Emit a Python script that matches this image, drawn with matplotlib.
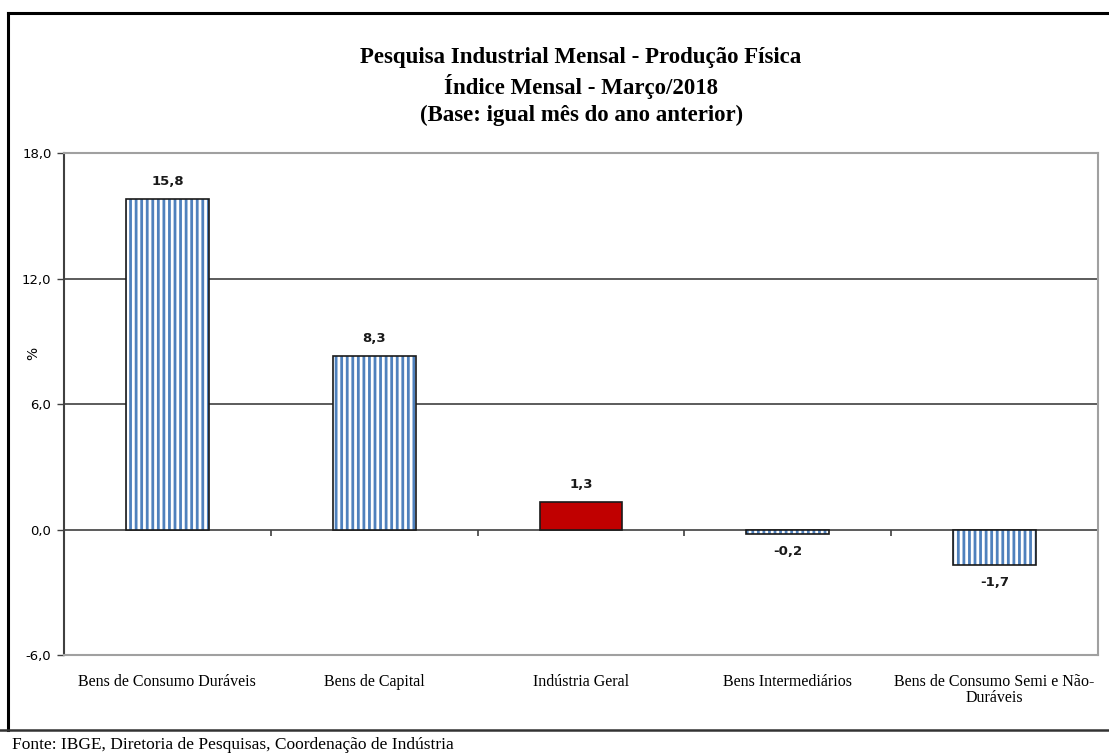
import matplotlib as mpl
import matplotlib.pyplot as plt
from matplotlib.lines import Line2D

categories = ['Bens de Consumo Duráveis', 'Bens de Capital', 'Indústria Geral',
              'Bens Intermediários', 'Bens de Consumo Semi e Não-\nDuráveis']
values = [15.8, 8.3, 1.3, -0.2, -1.7]
highlight = 'Indústria Geral'
yticks = [-6, 0, 6, 12, 18]

blue = '#4F81BD'
red = '#C00000'
serif = 'Liberation Serif'

mpl.rcParams['hatch.linewidth'] = 2.0

fig = plt.figure(figsize=(11.09, 7.56), dpi=100)
ax = fig.add_axes([0.0577, 0.1336, 0.9323, 0.664])

x = list(range(len(categories)))
for xi, v, cat in zip(x, values, categories):
    if cat == highlight:
        ax.bar(xi, v, width=0.4, color=red, edgecolor='#1a1a1a', linewidth=1.2, zorder=3)
    else:
        # blue vertical stripes on white, then the dark outline on top
        ax.bar(xi, v, width=0.4, color='white', edgecolor=blue, hatch='|||',
               linewidth=0, zorder=3)
        ax.bar(xi, v, width=0.4, fill=False, edgecolor='#1a1a1a', linewidth=1.2, zorder=4)
    lab = f'{v:.1f}'.replace('.', ',')
    off = 8 if v >= 0 else -8
    ax.annotate(lab, (xi, v), xytext=(0, off), textcoords='offset points',
                ha='center', va='bottom' if v >= 0 else 'top',
                fontsize=9.5, fontweight='bold', color='#1a1a1a', zorder=5)

ax.set_xlim(-0.5, len(categories) - 0.5)
ax.set_ylim(-6, 18)
ax.set_yticks(yticks)
ax.set_yticklabels([f'{t:.1f}'.replace('.', ',') for t in yticks], fontsize=9.5)
ax.tick_params(axis='y', length=5, width=1, color='#404040', pad=4)

ax.set_xticks(x)
ax.set_xticklabels(categories, fontsize=11.5, family=serif, linespacing=1.0)
ax.tick_params(axis='x', length=0, pad=14)

# gridlines and zero axis
for t in [6, 12]:
    ax.axhline(t, color='#404040', linewidth=1.2, zorder=1)
ax.axhline(0, color='#404040', linewidth=1.2, zorder=2)
bounds = [i + 0.5 for i in x[:-1]] + [len(categories) - 0.5]
ax.vlines(bounds, -0.3, 0, color='#404040', linewidth=1.2, zorder=2)

for side in ['top', 'right', 'bottom']:
    ax.spines[side].set_color('#A0A0A0')
    ax.spines[side].set_linewidth(1.5)
ax.spines['left'].set_color('#404040')
ax.spines['left'].set_linewidth(1.5)

ax.set_ylabel('%', fontsize=10)
ax.yaxis.set_label_coords(-0.023, 0.60)

title_lines = ['Pesquisa Industrial Mensal - Produção Física',
               'Índice Mensal - Março/2018',
               '(Base: igual mês do ano anterior)']
for i, line in enumerate(title_lines):
    fig.text(0.524, 1 - (58 + 28.5 * i) / 756, line, ha='center', va='center',
             fontsize=16.5, fontweight='bold', family=serif)

fig.text(0.011, 0.014, 'Fonte: IBGE, Diretoria de Pesquisas, Coordenação de Indústria',
         ha='left', va='center', fontsize=12.5, family=serif)

# outer frame
fig.add_artist(Line2D([0.0072, 0.0072], [0.034, 0.983], color='black', linewidth=2.2,
                      transform=fig.transFigure))
fig.add_artist(Line2D([0.0072, 1.0], [0.983, 0.983], color='black', linewidth=2.2,
                      transform=fig.transFigure))
fig.add_artist(Line2D([0.0, 1.0], [0.034, 0.034], color='#333333', linewidth=1.8,
                      transform=fig.transFigure))

fig.savefig('out.png', dpi=100)
